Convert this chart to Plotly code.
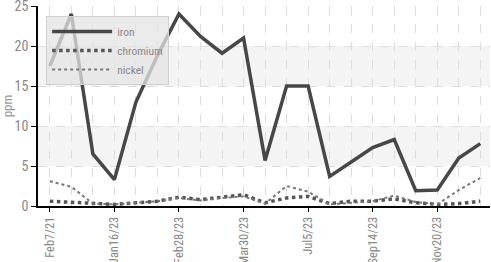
import plotly.graph_objects as go

idx = list(range(21))
tick_idx = [0, 3, 6, 9, 12, 15, 18]
tick_labels = ["Feb7/21", "Jan16/23", "Feb28/23", "Mar30/23", "Jul5/23", "Sep14/23", "Nov20/23"]

iron = [17.5, 24, 6.5, 3.3, 13, 18.8, 24, 21.2, 19.1, 21, 5.7, 15, 15, 3.7, 5.5, 7.3, 8.3, 1.9, 2.0, 6.0, 7.8]
chromium = [0.6, 0.5, 0.4, 0.2, 0.4, 0.6, 1.1, 0.8, 1.1, 1.4, 0.4, 1.0, 1.2, 0.3, 0.6, 0.6, 0.9, 0.4, 0.2, 0.3, 0.6]
nickel = [3.1, 2.4, 0.3, 0.2, 0.4, 0.6, 1.0, 0.7, 1.0, 1.2, 0.3, 2.5, 1.8, 0.2, 0.4, 0.6, 1.3, 0.5, 0.2, 2.0, 3.5]

font = "Liberation Sans Narrow, Roboto Condensed, Roboto, sans-serif"

fig = go.Figure()
fig.add_trace(go.Scatter(x=idx, y=iron, name="iron", mode="lines",
                         line=dict(color="#474747", width=3.5)))
fig.add_trace(go.Scatter(x=idx, y=chromium, name="chromium", mode="lines",
                         line=dict(color="#555555", width=3.5, dash="dot")))
fig.add_trace(go.Scatter(x=idx, y=nickel, name="nickel", mode="lines",
                         line=dict(color="#777777", width=2, dash="dot")))

for y0, y1 in [(5, 10), (15, 20)]:
    fig.add_shape(type="rect", xref="paper", yref="y", x0=0, x1=1, y0=y0, y1=y1,
                  fillcolor="#f4f4f4", line_width=0, layer="below")

fig.update_layout(
    width=491, height=262,
    margin=dict(l=38, r=1, t=6, b=56, autoexpand=False),
    paper_bgcolor="white", plot_bgcolor="white",
    font=dict(family=font, color="#888888", size=13),
    showlegend=True,
    legend=dict(x=0.018, y=0.95, xanchor="left", yanchor="top",
                bgcolor="rgba(228,228,228,0.75)", bordercolor="#d0d0d0", borderwidth=1,
                font=dict(size=11.5, color="#888888"), itemwidth=60,
                tracegroupgap=0),
    xaxis=dict(range=[-0.55, 20.45], tickvals=tick_idx, ticktext=tick_labels,
               tickangle=-90, ticks="outside", ticklen=4, tickcolor="black",
               ticklabeloverflow="allow", tickfont=dict(size=12.5), automargin=False,
               showline=True, linecolor="black", linewidth=1.5,
               showgrid=True, gridcolor="#dddddd", griddash="dash",
               minor=dict(dtick=1, tick0=0, showgrid=True, gridcolor="#dddddd", griddash="dash"),
               zeroline=False, fixedrange=True),
    yaxis=dict(range=[0, 25], tickvals=[0, 5, 10, 15, 20, 25], ticks="outside", ticklen=5,
               tickcolor="black", showline=True, linecolor="black", linewidth=1.5,
               ticklabeloverflow="allow", tickfont=dict(size=14), automargin=False,
               showgrid=True, gridcolor="#dddddd", griddash="dash", zeroline=False,
               title=dict(text="ppm", standoff=6, font=dict(size=13, color="#999999")),
               fixedrange=True),
)

fig.write_html("out.html", config={"displayModeBar": False},
               post_script="document.body.style.margin='0';")
